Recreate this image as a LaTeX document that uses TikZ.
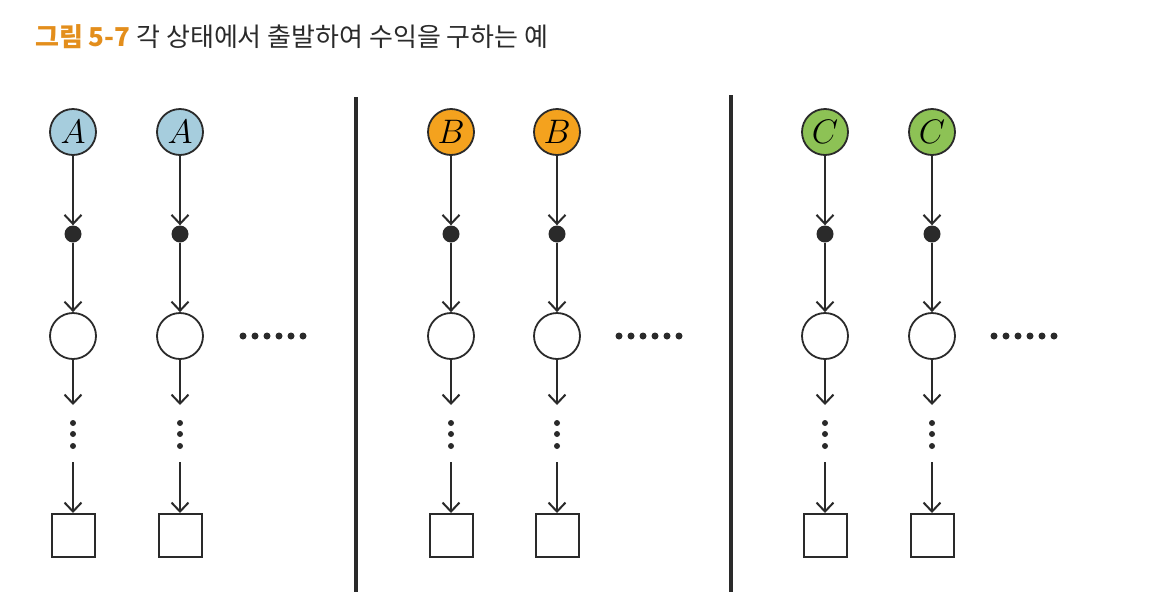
\RequirePackage{fix-cm}
\documentclass[tikz,border=0pt]{standalone}
\usepackage{fontspec}
\newfontfamily\kr{Noto Sans CJK KR}
\usetikzlibrary{arrows.meta}
\definecolor{cA}{HTML}{A6CDDD}
\definecolor{cB}{HTML}{F4A21E}
\definecolor{cC}{HTML}{8DC255}
\definecolor{ttl}{HTML}{E38E1C}
\definecolor{ink}{HTML}{2A2A2A}
\tikzset{
  state/.style={circle, draw=ink, line width=1.8pt, minimum size=46pt, inner sep=0pt,
    font=\fontsize{34}{36}\selectfont},
  chance/.style={circle, fill=ink, minimum size=17pt, inner sep=0pt},
  bigc/.style={circle, draw=ink, line width=1.8pt, minimum size=46pt, inner sep=0pt},
  term/.style={rectangle, draw=ink, line width=2pt, minimum size=43pt, inner sep=0pt},
  vdot/.style={circle, fill=ink, minimum size=6pt, inner sep=0pt},
  hdot/.style={circle, fill=ink, minimum size=7pt, inner sep=0pt},
  conn/.style={draw=ink, line width=2pt, -{Straight Barb[length=9pt,width=17pt,line width=2pt]}},
  sep/.style={draw=ink, line width=4pt},
}
\begin{document}
\begin{tikzpicture}[x=1pt,y=-1pt]
\useasboundingbox (0,0) rectangle (1150,600);
\node[anchor=west, inner sep=0pt, font=\kr\fontsize{26}{28}\selectfont] (title) at (35,37)
  {\textcolor{ttl}{\bfseries 그림 5-7}\ \textcolor{ink}{각 상태에서 출발하여 수익을 구하는 예}};
\foreach \n/\x/\l/\c in {a1/73/A/cA, a2/180/A/cA, b1/451/B/cB, b2/557/B/cB, c1/825/C/cC, c2/932/C/cC}{
  \node[state, fill=\c] (t\n) at (\x,132) {$\l$};
  \node[chance] (d\n) at (\x,234) {};
  \node[bigc] (o\n) at (\x,336) {};
  \coordinate (e\n) at (\x,405);
  \node[vdot] (va\n) at (\x,423) {};
  \node[vdot] (vb\n) at (\x,434) {};
  \node[vdot] (vc\n) at (\x,446) {};
  \coordinate (s\n) at (\x,462);
  \node[term] (q\n) at (\x,535.5) {};
  \draw[conn] (t\n) -- (d\n);
  \draw[conn] (d\n) -- (o\n);
  \draw[conn] (o\n) -- (e\n);
  \draw[conn] (s\n) -- (q\n);
}
\foreach \g/\x in {A/243, B/619, C/994}{
  \foreach \k in {0,...,5}{
    \node[hdot] (h\g\k) at (\x+12*\k,336) {};
  }
}
\coordinate (sepAt) at (356,97);
\coordinate (sepAb) at (356,592);
\coordinate (sepBt) at (731,95);
\coordinate (sepBb) at (731,592);
\draw[sep] (sepAt) -- (sepAb);
\draw[sep] (sepBt) -- (sepBb);
\end{tikzpicture}
\end{document}
